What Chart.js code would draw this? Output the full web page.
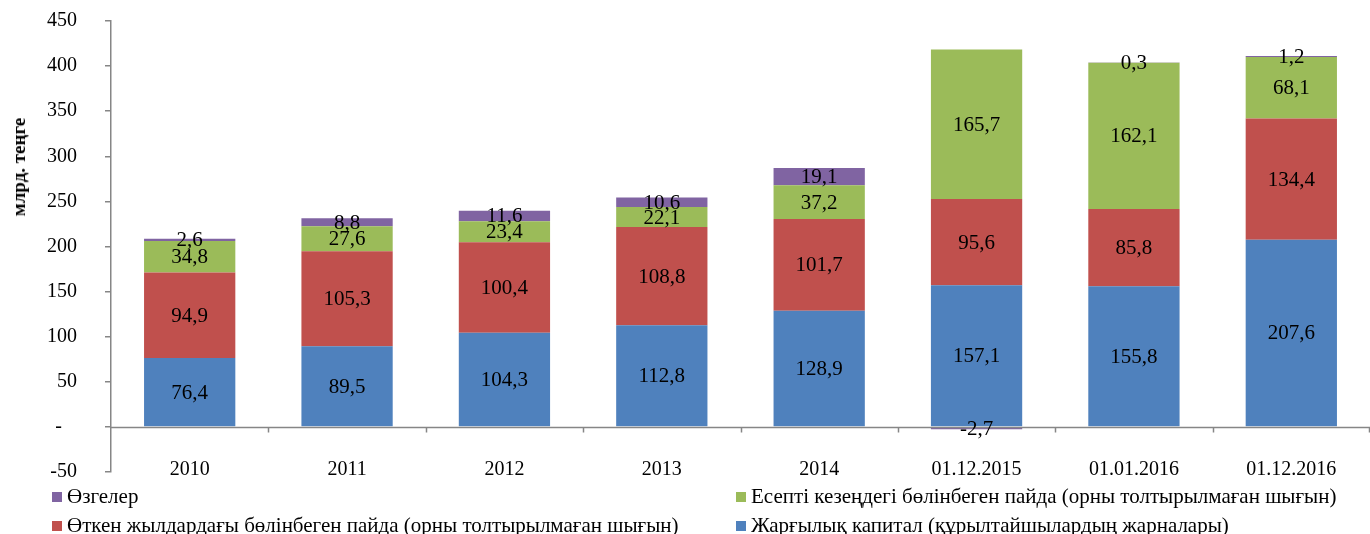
<!DOCTYPE html>
<html><head><meta charset="utf-8">
<script src="https://cdn.jsdelivr.net/npm/chart.js@4"></script>
<style>
body{margin:0;background:#fff;width:1370px;height:534px;overflow:hidden;position:relative;font-family:"Liberation Serif","Times New Roman",serif;}
#wrap{position:absolute;left:0;top:0;width:1370px;height:534px;}
#c{display:block;}
#ytitle{position:absolute;left:19px;top:167px;transform:translate(-50%,-50%) rotate(-90deg);font-weight:bold;font-size:19px;white-space:nowrap;color:#000;}
.leg{position:absolute;font-size:21px;white-space:nowrap;line-height:22px;color:#000;}
.leg i{display:inline-block;width:10px;height:10px;margin-right:5px;vertical-align:1px;}
</style>
</head><body>
<div id="wrap"><canvas id="c" width="1370" height="534"></canvas></div>
<div id="ytitle">млрд. теңге</div>
<div id="legend"></div>
<script>
const categories = ["2010","2011","2012","2013","2014","01.12.2015","01.01.2016","01.12.2016"];
const seriesNames = [
  "Жарғылық капитал (құрылтайшылардың жарналары)",
  "Өткен жылдардағы бөлінбеген пайда (орны толтырылмаған шығын)",
  "Есепті кезеңдегі бөлінбеген пайда (орны толтырылмаған шығын)",
  "Өзгелер"
];
const charterCapital = [76.4, 89.5, 104.3, 112.8, 128.9, 157.1, 155.8, 207.6];
const pastYearsProfit = [94.9, 105.3, 100.4, 108.8, 101.7, 95.6, 85.8, 134.4];
const currentPeriodProfit = [34.8, 27.6, 23.4, 22.1, 37.2, 165.7, 162.1, 68.1];
const others = [2.6, 8.8, 11.6, 10.6, 19.1, -2.7, 0.3, 1.2];
const colors = ["#4F81BD", "#C0504D", "#9BBB59", "#8064A2"];
const yMin = -50, yMax = 450, yStep = 50;

const fmt = v => v.toFixed(1).replace('.', ',');

const zeroAxisPlugin = {
  id: 'zeroAxis',
  afterDatasetsDraw(chart) {
    const ctx = chart.ctx, x = chart.scales.x, y = chart.scales.y, a = chart.chartArea;
    const y0 = Math.round(y.getPixelForValue(0)) + 0.5;
    ctx.save();
    ctx.strokeStyle = '#868686'; ctx.lineWidth = 1.5;
    ctx.beginPath(); ctx.moveTo(a.left, y0); ctx.lineTo(a.right, y0);
    const n = categories.length;
    for (let i = 1; i <= n; i++) {
      let xp = i < n ? (x.getPixelForTick(i - 1) + x.getPixelForTick(i)) / 2 : a.right - 1;
      xp = Math.round(xp) + 0.5;
      ctx.moveTo(xp, y0); ctx.lineTo(xp, y0 + 5);
    }
    ctx.stroke();
    ctx.restore();
  }
};
const valueLabelsPlugin = {
  id: 'valueLabels',
  afterDatasetsDraw(chart) {
    const ctx = chart.ctx;
    ctx.save();
    ctx.font = '21px "Liberation Serif"';
    ctx.fillStyle = '#000'; ctx.textAlign = 'center'; ctx.textBaseline = 'middle';
    chart.data.datasets.forEach((ds, i) => {
      chart.getDatasetMeta(i).data.forEach((bar, j) => {
        const p = bar.getProps(['x', 'y', 'base'], true);
        ctx.fillText(fmt(ds.data[j]), p.x, (p.y + p.base) / 2 + 1);
      });
    });
    ctx.restore();
  }
};

const seriesData = [charterCapital, pastYearsProfit, currentPeriodProfit, others];
new Chart(document.getElementById('c'), {
  type: 'bar',
  data: {
    labels: categories,
    datasets: seriesData.map((d, i) => ({
      label: seriesNames[i], data: d, backgroundColor: colors[i],
      borderWidth: 0, categoryPercentage: 1, barPercentage: 0.58, stack: 's'
    }))
  },
  options: {
    responsive: false, maintainAspectRatio: false, animation: false,
    layout: { padding: { top: 21, right: 0, left: 0, bottom: 0 } },
    plugins: { legend: { display: false }, tooltip: { enabled: false } },
    scales: {
      x: {
        stacked: true,
        grid: { display: false, drawTicks: false },
        border: { display: false },
        ticks: { color: '#000', font: { family: 'Liberation Serif', size: 20 }, padding: -10, mirror: true, maxRotation: 0 },
        afterFit(s) { s.height = 62; s.paddingTop = 0; s.paddingBottom = 0; }
      },
      y: {
        stacked: true, min: yMin, max: yMax,
        grid: { drawOnChartArea: false, drawTicks: true, tickLength: 6, color: '#868686', lineWidth: 1.5 },
        border: { display: true, color: '#868686', width: 1.5 },
        ticks: { stepSize: yStep, color: '#000', font: { family: 'Liberation Serif', size: 20 }, padding: 28,
          callback: v => v === 0 ? '-   ' : String(v) },
        afterFit(s) { s.width = 111; s.paddingTop = 0; s.paddingBottom = 0; }
      }
    }
  },
  plugins: [zeroAxisPlugin, valueLabelsPlugin]
});

// legend (two columns, as in the reference)
const legendOrder = [[3, 52, 496], [2, 736, 496], [1, 52, 525], [0, 736, 525]];
const lg = document.getElementById('legend');
legendOrder.forEach(([i, x, yc]) => {
  const d = document.createElement('div');
  d.className = 'leg';
  d.style.left = x + 'px'; d.style.top = (yc - 11) + 'px';
  d.innerHTML = '<i style="background:' + colors[i] + '"></i>';
  d.appendChild(document.createTextNode(seriesNames[i]));
  lg.appendChild(d);
});
</script>
</body></html>
